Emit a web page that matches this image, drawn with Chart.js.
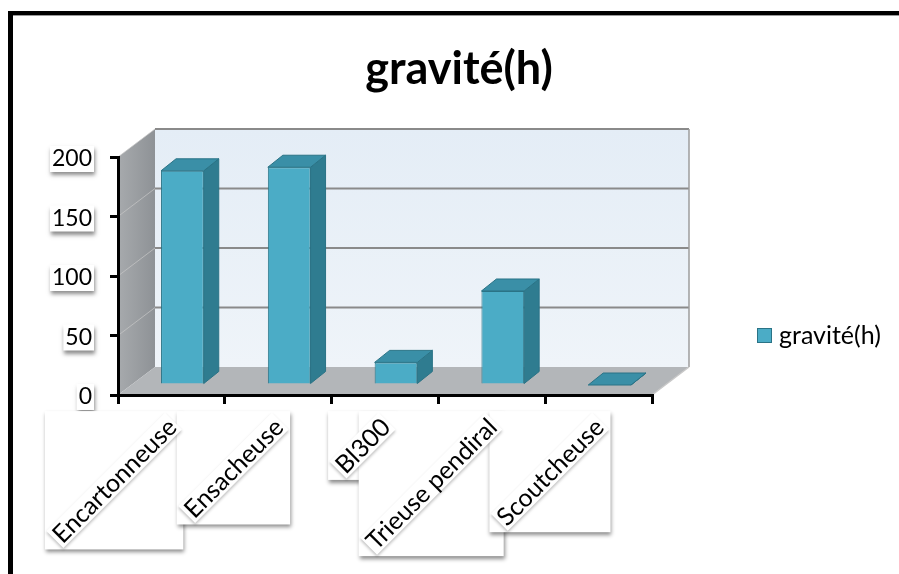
<!DOCTYPE html>
<html>
<head>
<meta charset="utf-8">
<script src="https://cdn.jsdelivr.net/npm/chart.js@4.4.1/dist/chart.umd.min.js"></script>
<style>
  html, body { margin: 0; padding: 0; background: #ffffff; }
  #wrap { width: 899px; height: 574px; position: relative; }
</style>
</head>
<body>
<div id="wrap"><canvas id="c" width="899" height="574"></canvas></div>
<script>
// ---- data ----
const categories = ['Encartonneuse', 'Ensacheuse', 'Bl300', 'Trieuse pendiral', 'Scoutcheuse'];
const seriesLabel = 'gravité(h)';
const graviteHours = [180, 183, 19, 79, 0];
const yTickValues = [0, 50, 100, 150, 200];
const chartTitle = 'gravité(h)';

// ---- look ----
const FONT = 'Lato, "Open Sans", "DejaVu Sans", sans-serif';
const WALL_DEPTH = { x: 37, y: -28 };   // offset of the back wall from the front axis plane
const BAR_SHIFT = { x: 11, y: -10 };    // bars stand a little inside the floor
const BAR_DEPTH = { x: 15, y: -12 };    // thickness of each bar
const BAR_FRONT = '#4bacc6';
const BAR_SIDE = '#2f7c90';
const BAR_TOP = '#3a8fa7';
const BAR_EDGE = '#2a7386';

function poly(ctx, pts, fill, stroke, lw) {
  ctx.beginPath();
  ctx.moveTo(pts[0][0], pts[0][1]);
  for (let i = 1; i < pts.length; i++) ctx.lineTo(pts[i][0], pts[i][1]);
  ctx.closePath();
  if (fill) { ctx.fillStyle = fill; ctx.fill(); }
  if (stroke) { ctx.strokeStyle = stroke; ctx.lineWidth = lw || 1; ctx.stroke(); }
}

function shadowBox(ctx, x, y, w, h) {
  ctx.save();
  ctx.shadowColor = 'rgba(0,0,0,0.45)';
  ctx.shadowBlur = 4;
  ctx.shadowOffsetX = 1;
  ctx.shadowOffsetY = 3;
  ctx.fillStyle = '#ffffff';
  ctx.fillRect(x, y, w, h);
  ctx.restore();
}

const scene3d = {
  id: 'scene3d',
  beforeDraw(chart) {
    const { ctx, chartArea: a, scales: { y } } = chart;
    const dx = WALL_DEPTH.x, dy = WALL_DEPTH.y;
    const wl = a.left + dx, wr = a.right + dx, wt = a.top + dy, wb = a.bottom + dy;
    ctx.save();

    // frame around the whole figure
    ctx.fillStyle = '#000';
    ctx.fillRect(8, 11, 891, 4);
    ctx.fillRect(8, 11, 5, 563);
    ctx.fillStyle = '#9a9a9a';
    ctx.fillRect(13, 15, 886, 1);

    // back wall
    const gBack = ctx.createLinearGradient(0, wt, 0, wb);
    gBack.addColorStop(0, '#e4edf6');
    gBack.addColorStop(1, '#eff4f9');
    poly(ctx, [[wl, wt], [wr, wt], [wr, wb], [wl, wb]], gBack);

    // left side wall
    const gSide = ctx.createLinearGradient(a.left, 0, wl, 0);
    gSide.addColorStop(0, '#a7aaad');
    gSide.addColorStop(1, '#8e9296');
    poly(ctx, [[a.left, a.top], [wl, wt], [wl, wb], [a.left, a.bottom]], gSide);

    // floor
    poly(ctx, [[a.left, a.bottom], [a.right, a.bottom], [wr, wb], [wl, wb]], '#b3b6b9');

    // gridlines on the back wall and their traces on the side wall
    yTickValues.forEach(v => {
      const py = y.getPixelForValue(v);
      if (v > 0) {
        ctx.strokeStyle = '#8a8a8a';
        ctx.lineWidth = 2;
        ctx.beginPath(); ctx.moveTo(wl, py + dy); ctx.lineTo(wr, py + dy); ctx.stroke();
        ctx.strokeStyle = 'rgba(200,200,200,0.7)';
        ctx.lineWidth = 1;
        ctx.beginPath(); ctx.moveTo(a.left, py); ctx.lineTo(wl, py + dy); ctx.stroke();
      }
    });
    // wall outline
    ctx.strokeStyle = '#9c9c9c';
    ctx.lineWidth = 1.5;
    ctx.beginPath(); ctx.moveTo(wr, wt); ctx.lineTo(wr, wb); ctx.stroke();
    ctx.strokeStyle = '#c8c8c8';
    ctx.beginPath(); ctx.moveTo(wr, wb); ctx.lineTo(a.right, a.bottom); ctx.stroke();

    // value axis labels in little shadowed boxes
    ctx.font = '23px ' + FONT;
    ctx.textAlign = 'right';
    ctx.textBaseline = 'middle';
    const rx = 92;
    yTickValues.forEach(v => {
      const py = y.getPixelForValue(v);
      const tw = ctx.measureText(String(v)).width;
      shadowBox(ctx, rx - tw - 2, py - 11, tw + 4, 26);
    });
    ctx.fillStyle = '#000';
    yTickValues.forEach(v => {
      const py = y.getPixelForValue(v);
      ctx.fillText(String(v), rx, py + 2);
    });
    ctx.restore();
  },
  beforeDatasetsDraw(chart) {
    const { ctx } = chart;
    const meta = chart.getDatasetMeta(0);
    ctx.save();
    meta.data.forEach(el => {
      const p = el.getProps(['x', 'y', 'base', 'width'], true);
      const l = p.x - p.width / 2 + BAR_SHIFT.x;
      const r = p.x + p.width / 2 + BAR_SHIFT.x;
      const t = Math.min(p.y, p.base) + BAR_SHIFT.y;
      const b = Math.max(p.y, p.base) + BAR_SHIFT.y;
      const ex = BAR_DEPTH.x, ey = BAR_DEPTH.y;
      poly(ctx, [[r, t], [r + ex, t + ey], [r + ex, b + ey], [r, b]], BAR_SIDE, BAR_EDGE, 1);
      poly(ctx, [[l, t], [r, t], [r + ex, t + ey], [l + ex, t + ey]], BAR_TOP, BAR_EDGE, 1);
    });
    ctx.restore();
    // front faces are drawn by the bar controller, pushed back onto the bar plane
    ctx.save();
    ctx.translate(BAR_SHIFT.x, BAR_SHIFT.y);
  },
  afterDatasetsDraw(chart) {
    chart.ctx.restore();
  },
  afterDraw(chart) {
    const { ctx, scales: { x } } = chart;
    ctx.save();

    // title
    ctx.fillStyle = '#000';
    ctx.font = 'bold 45px ' + FONT;
    ctx.textAlign = 'center';
    ctx.textBaseline = 'alphabetic';
    ctx.fillText(chartTitle, 459, 84);

    // legend
    ctx.fillStyle = BAR_FRONT;
    ctx.fillRect(757, 328, 15, 15);
    ctx.strokeStyle = BAR_EDGE;
    ctx.lineWidth = 1;
    ctx.strokeRect(757.5, 328.5, 14, 14);
    ctx.fillStyle = '#000';
    ctx.font = '25px ' + FONT;
    ctx.textAlign = 'left';
    ctx.textBaseline = 'middle';
    ctx.fillText(chart.data.datasets[0].label, 779, 336);

    // category labels: rotated text inside shadowed boxes
    const fs = 25, h = 28, k = Math.SQRT1_2;
    ctx.font = fs + 'px ' + FONT;
    const items = categories.map((lab, i) => {
      const cx = x.getPixelForValue(i);
      const w = ctx.measureText(lab).width + 4;
      const ax = cx + 2, ay = 421;
      return { lab, w, ax, ay, bx: ax - k * (w + h / 2), by: ay - k * h / 2, bs: k * (w + h) };
    });
    items.forEach(it => shadowBox(ctx, it.bx, it.by, it.bs, it.bs));
    items.forEach(it => {
      ctx.save();
      ctx.translate(it.ax, it.ay);
      ctx.rotate(-Math.PI / 4);
      ctx.save();
      ctx.shadowColor = 'rgba(0,0,0,0.25)';
      ctx.shadowBlur = 3;
      ctx.shadowOffsetY = 2;
      ctx.fillStyle = '#fff';
      ctx.fillRect(-it.w, -h / 2 + 2, it.w, h - 4);
      ctx.restore();
      ctx.fillStyle = '#000';
      ctx.textAlign = 'right';
      ctx.textBaseline = 'middle';
      ctx.fillText(it.lab, -2, 1);
      ctx.restore();
    });
    ctx.restore();
  }
};

new Chart(document.getElementById('c'), {
  type: 'bar',
  data: {
    labels: categories,
    datasets: [{
      label: seriesLabel,
      data: graviteHours,
      backgroundColor: BAR_FRONT,
      borderColor: BAR_EDGE,
      borderWidth: 1,
      barPercentage: 0.4,
      categoryPercentage: 1,
      clip: false
    }]
  },
  options: {
    responsive: false,
    animation: false,
    devicePixelRatio: 1,
    layout: { padding: { left: 0, top: 157, right: 247, bottom: 0 } },
    plugins: {
      legend: { display: false },
      title: { display: false },
      tooltip: { enabled: false }
    },
    scales: {
      x: {
        grid: { display: true, drawOnChartArea: false, drawTicks: true, tickLength: 9, color: '#000', lineWidth: 3, offset: true },
        border: { display: true, color: '#000', width: 3 },
        ticks: { display: false },
        afterFit(s) { s.height = 179; }
      },
      y: {
        min: 0,
        max: 200,
        afterBuildTicks(s) { s.ticks = yTickValues.map(v => ({ value: v })); },
        grid: { display: true, drawOnChartArea: false, drawTicks: true, tickLength: 8, color: '#000', lineWidth: 3 },
        border: { display: true, color: '#000', width: 3 },
        ticks: { display: false },
        afterFit(s) { s.width = 118; }
      }
    }
  },
  plugins: [scene3d]
});
</script>
</body>
</html>
